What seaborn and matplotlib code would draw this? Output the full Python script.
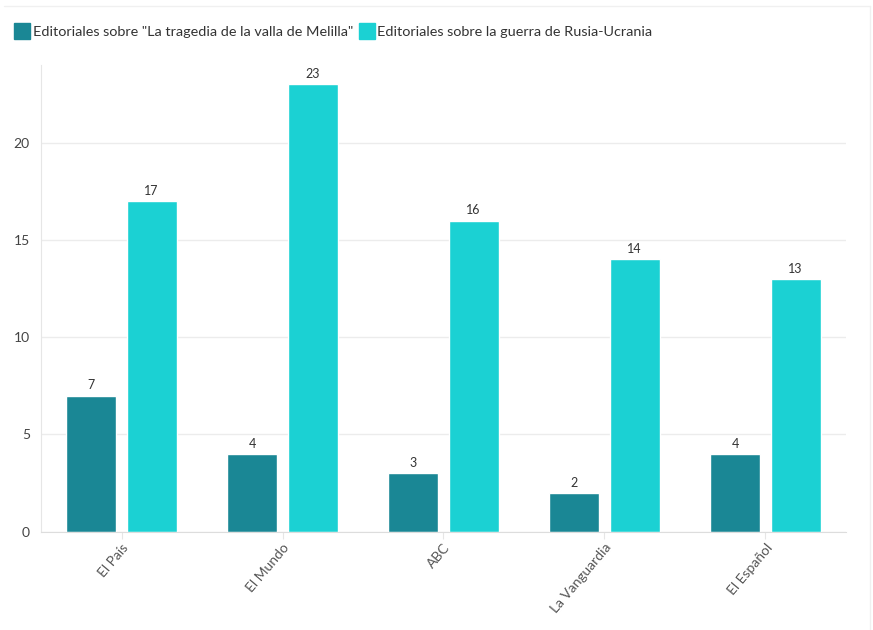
import pandas as pd
import numpy as np
import matplotlib.pyplot as plt
import seaborn as sns

# data
periodicos = ['El País', 'El Mundo', 'ABC', 'La Vanguardia', 'El Español']
melilla = [7, 4, 3, 2, 4]
ucrania = [17, 23, 16, 14, 13]
series = ['Editoriales sobre "La tragedia de la valla de Melilla"',
          'Editoriales sobre la guerra de Rusia-Ucrania']
colores = ['#1a8795', '#1bd1d3']

df = pd.DataFrame({
    'periodico': periodicos * 2,
    'valor': melilla + ucrania,
    'serie': [series[0]] * len(periodicos) + [series[1]] * len(periodicos),
})

sns.set_style('white')
plt.rcParams['font.family'] = ['Lato', 'DejaVu Sans']

fig = plt.figure(figsize=(8.73, 6.3), dpi=100)
ax = fig.add_axes([0.047, 0.156, 0.922, 0.741])

sns.barplot(data=df, x='periodico', y='valor', hue='serie', palette=colores,
            width=0.75, gap=0.17, ax=ax, legend=False, saturation=1)

for c in ax.containers:
    ax.bar_label(c, fontsize=9, color='#333333', padding=3)

ax.set_xlim(-0.5, 4.5)
ax.set_ylim(0, 24)
ax.set_yticks([0, 5, 10, 15, 20])
ax.yaxis.grid(True, color='#ececec', linewidth=1)
ax.set_axisbelow(True)
ax.set_xlabel('')
ax.set_ylabel('')
for s in ['top', 'right']:
    ax.spines[s].set_visible(False)
ax.spines['left'].set_color('#e6e6e6')
ax.spines['bottom'].set_color('#dddddd')
ax.tick_params(axis='y', labelsize=10, colors='#444444', length=0, pad=8)
ax.tick_params(axis='x', labelsize=10, colors='#555555', length=5, color='#e6e6e6',
               bottom=True, pad=2)
plt.setp(ax.get_xticklabels(), rotation=50, ha='right', rotation_mode='anchor')

# legend with rounded swatches
handles = [plt.Line2D([], [], marker='s', linestyle='', markersize=11,
                      markerfacecolor=col, markeredgecolor=col) for col in colores]
fig.legend(handles, series, loc='upper left', bbox_to_anchor=(0.005, 0.98), ncol=2,
           frameon=False, fontsize=10.4, handlelength=0.7, handletextpad=0.35,
           columnspacing=0.6, labelcolor='#333333')

# faint frame of the original screenshot
fig.add_artist(plt.Line2D([0.005, 0.996], [0.99, 0.99], color='#f0f0f0', lw=1))
fig.add_artist(plt.Line2D([0.996, 0.996], [0.0, 0.99], color='#f0f0f0', lw=1))

plt.savefig('out.png', dpi=100)
